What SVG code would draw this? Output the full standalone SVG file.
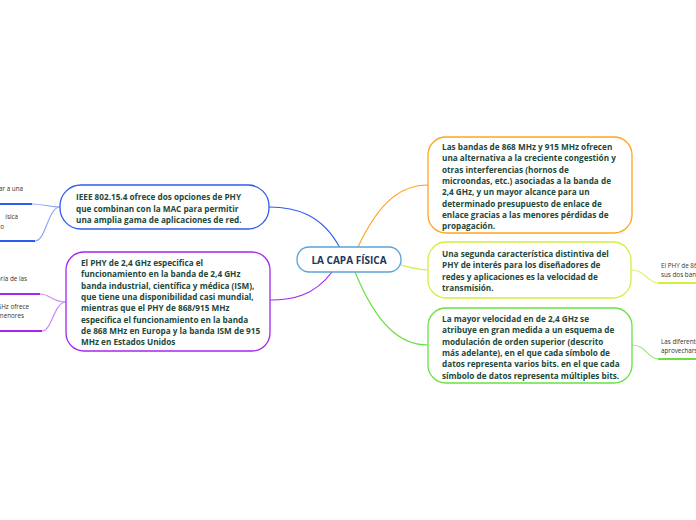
<svg xmlns="http://www.w3.org/2000/svg" width="696" height="520" viewBox="0 0 696 520">
<style>
.box{fill:#fff;stroke-width:1.3}
.t{font-family:"Open Sans","Noto Sans",sans-serif;font-size:8.2px;font-weight:bold;fill:#22493a}
.s{font-family:"Open Sans","Noto Sans",sans-serif;font-size:6.3px;fill:#333}
.c{fill:none;stroke-width:1.2}
</style>
<rect width="696" height="520" fill="#fff"/>
<g id="connectors">
<path class="c" stroke="#2f5cf0" d="M340 248 C322 214 295 207 269 207"/>
<path class="c" stroke="#a526ee" d="M332 272 C314 296 292 300 270 300"/>
<path class="c" stroke="#ffa51f" d="M358 247 C380 200 402 185 428 185"/>
<path class="c" stroke="#d2f040" d="M401 265 C412 268 418 270 428 270"/>
<path class="c" stroke="#6ae042" d="M355 272 C378 328 402 345 428 345"/>
<path class="c" stroke="#8fa8f5" d="M60 207 C48 207 44 204 32 204"/>
<path class="c" stroke="#8fa8f5" d="M60 207 C48 207 46 241 35 241"/>
<path stroke="#2f5cf0" stroke-width="2" d="M0 204 H32 M0 241 H35"/>
<path class="c" stroke="#cc8af5" d="M66 302 C52 302 50 294 40 294"/>
<path class="c" stroke="#cc8af5" d="M66 302 C54 302 52 331 42 331"/>
<path stroke="#a526ee" stroke-width="2" d="M0 294 H40 M0 331 H42"/>
<path class="c" stroke="#dff07a" d="M631 270 C645 270 648 283 658 283"/>
<path stroke="#d2f040" stroke-width="2" d="M658 283 H696"/>
<path class="c" stroke="#9be87f" d="M632 345 C646 345 648 359 658 359"/>
<path stroke="#6ae042" stroke-width="2" d="M658 359 H696"/>
</g>
<g id="center">
<rect class="box" x="297" y="247" width="104" height="25" rx="12" stroke="#5ba3d6"/>
<text x="349" y="263.5" text-anchor="middle" font-family="Open Sans,Noto Sans,sans-serif" font-size="10" font-weight="bold" fill="#1b3658">LA CAPA FÍSICA</text>
</g>
<g id="n1">
<rect class="box" x="60" y="185" width="209" height="44" rx="21" stroke="#2f5cf0"/>
<text class="t" x="76"><tspan x="76" y="200">IEEE 802.15.4 ofrece dos opciones de PHY</tspan><tspan x="76" y="211.5">que combinan con la MAC para permitir</tspan><tspan x="76" y="223">una amplia gama de aplicaciones de red.</tspan></text>
</g>
<g id="n2">
<rect class="box" x="66" y="252" width="204" height="99" rx="18" stroke="#a526ee"/>
<text class="t"><tspan x="81" y="266">El PHY de 2,4 GHz especifica el</tspan><tspan x="81" y="277.3">funcionamiento en la banda de 2,4 GHz</tspan><tspan x="81" y="288.6">banda industrial, científica y médica (ISM),</tspan><tspan x="81" y="299.9">que tiene una disponibilidad casi mundial,</tspan><tspan x="81" y="311.2">mientras que el PHY de 868/915 MHz</tspan><tspan x="81" y="322.5">especifica el funcionamiento en la banda</tspan><tspan x="81" y="333.8">de 868 MHz en Europa y la banda ISM de 915</tspan><tspan x="81" y="345.1">MHz en Estados Unidos</tspan></text>
</g>
<g id="n3">
<rect class="box" x="428" y="137" width="204" height="96" rx="18" stroke="#ffa51f"/>
<text class="t"><tspan x="442" y="150">Las bandas de 868 MHz y 915 MHz ofrecen</tspan><tspan x="442" y="161.3">una alternativa a la creciente congestión y</tspan><tspan x="442" y="172.6">otras interferencias (hornos de</tspan><tspan x="442" y="183.9">microondas, etc.) asociadas a la banda de</tspan><tspan x="442" y="195.2">2,4 GHz, y un mayor alcance para un</tspan><tspan x="442" y="206.5">determinado presupuesto de enlace de</tspan><tspan x="442" y="217.8">enlace gracias a las menores pérdidas de</tspan><tspan x="442" y="229.1">propagación.</tspan></text>
</g>
<g id="n4">
<rect class="box" x="428" y="242" width="203" height="56" rx="18" stroke="#d2f040"/>
<text class="t"><tspan x="442" y="257">Una segunda característica distintiva del</tspan><tspan x="442" y="268.3">PHY de interés para los diseñadores de</tspan><tspan x="442" y="279.6">redes y aplicaciones es la velocidad de</tspan><tspan x="442" y="290.9">transmisión.</tspan></text>
</g>
<g id="n5">
<rect class="box" x="428" y="308" width="204" height="75" rx="18" stroke="#6ae042"/>
<text class="t"><tspan x="442" y="322">La mayor velocidad en de 2,4 GHz se</tspan><tspan x="442" y="333.3">atribuye en gran medida a un esquema de</tspan><tspan x="442" y="344.6">modulación de orden superior (descrito</tspan><tspan x="442" y="355.9">más adelante), en el que cada símbolo de</tspan><tspan x="442" y="367.2">datos representa varios bits. en el que cada</tspan><tspan x="442" y="378.5">símbolo de datos representa múltiples bits.</tspan></text>
</g>
<g id="c1"><text class="s" x="23" y="191" text-anchor="end">ar a una</text></g>
<g id="c2"><text class="s" text-anchor="end"><tspan x="18" y="219">ísica</tspan><tspan x="4" y="229">o</tspan></text></g>
<g id="c3"><text class="s" x="27" y="281" text-anchor="end">oría de las</text></g>
<g id="c4"><text class="s" text-anchor="end"><tspan x="29" y="309">GHz ofrece</tspan><tspan x="24" y="318">menores</tspan></text></g>
<g id="c5"><text class="s"><tspan x="661" y="268">El PHY de 86</tspan><tspan x="661" y="277">sus dos banc</tspan></text></g>
<g id="c6"><text class="s"><tspan x="661" y="344">Las diferente</tspan><tspan x="661" y="353">aprovechars</tspan></text></g>
</svg>
